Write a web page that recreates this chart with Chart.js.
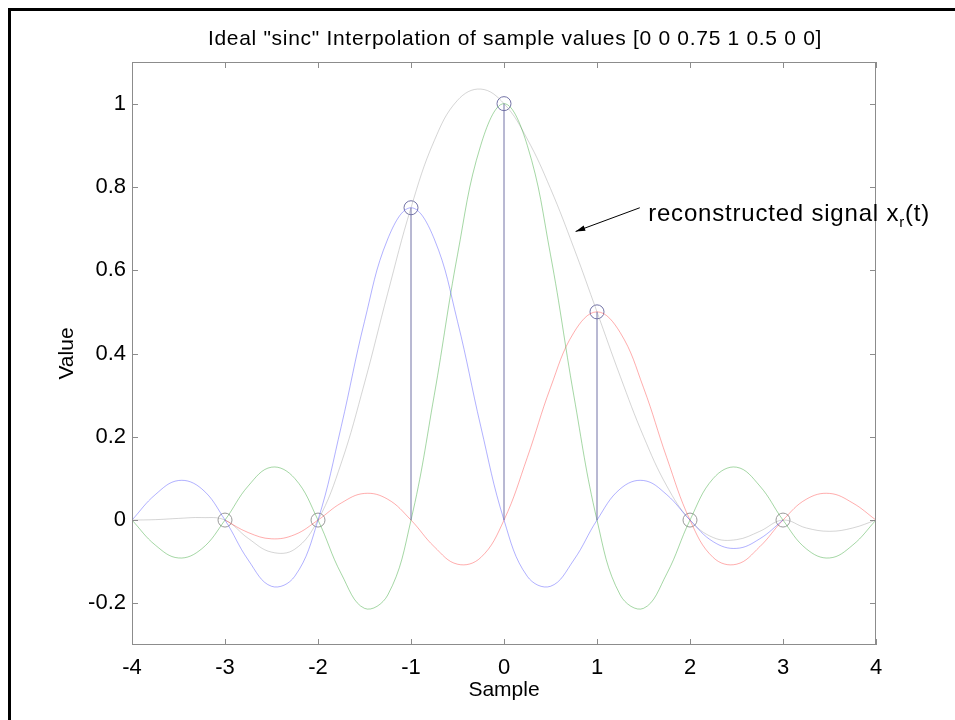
<!DOCTYPE html>
<html>
<head>
<meta charset="utf-8">
<script src="https://cdn.jsdelivr.net/npm/chart.js@4.4.1/dist/chart.umd.min.js"></script>
<style>
  html, body { margin: 0; padding: 0; background: #fff; }
  #wrap { width: 955px; height: 720px; }
</style>
</head>
<body>
<div id="wrap"><canvas id="sincChart" width="955" height="720"></canvas></div>
<script>
// time axis of the plotted curves
const tValues = [-4, -3.75, -3.5, -3.25, -3, -2.75, -2.5, -2.25, -2, -1.75, -1.5, -1.25, -1, -0.75, -0.5, -0.25,
  0, 0.25, 0.5, 0.75, 1, 1.25, 1.5, 1.75, 2, 2.25, 2.5, 2.75, 3, 3.25, 3.5, 3.75, 4];

// sinc pulse for sample at -1 (blue), ends at t = 3
const blueValues = [0, 0.061, 0.095, 0.075, 0, -0.096, -0.159, -0.135, 0, 0.225, 0.477, 0.675, 0.75, 0.675, 0.477, 0.225,
  0, -0.135, -0.159, -0.096, 0, 0.075, 0.095, 0.061, 0, -0.052, -0.068, -0.045, 0, null, null, null, null];
// sinc pulse for sample at 0 (green)
const greenValues = [0, -0.060, -0.091, -0.069, 0, 0.082, 0.127, 0.100, 0, -0.129, -0.212, -0.180, 0, 0.300, 0.637, 0.900,
  1, 0.900, 0.637, 0.300, 0, -0.180, -0.212, -0.129, 0, 0.100, 0.127, 0.082, 0, -0.069, -0.091, -0.060, 0];
// sinc pulse for sample at 1 (red), starts at t = -3
const redValues = [null, null, null, null, 0, -0.030, -0.045, -0.035, 0, 0.041, 0.064, 0.050, 0, -0.064, -0.106, -0.090,
  0, 0.150, 0.318, 0.450, 0.5, 0.450, 0.318, 0.150, 0, -0.090, -0.106, -0.064, 0, 0.050, 0.064, 0.041, 0];
// reconstructed signal (gray)
const sumValues = [0, 0.001, 0.004, 0.006, 0, -0.044, -0.077, -0.070, 0, 0.137, 0.329, 0.545, 0.75, 0.911, 1.008, 1.035,
  1, 0.915, 0.796, 0.654, 0.5, 0.345, 0.201, 0.082, 0, -0.042, -0.047, -0.027, 0, -0.019, -0.027, -0.019, 0];

// the samples
const sampleX = [-3, -2, -1, 0, 1, 2, 3];
const sampleY = [0, 0, 0.75, 1, 0.5, 0, 0];

// axis ticks
const xTicks = [-4, -3, -2, -1, 0, 1, 2, 3, 4];
const yTicks = [-0.2, 0, 0.2, 0.4, 0.6, 0.8, 1];

const titleText = 'Ideal "sinc" Interpolation of sample values [0 0 0.75 1 0.5 0 0]';

// annotation: arrow tail, arrow head, text anchor (data units)
const arrowFrom = [1.46, 0.75];
const arrowTo = [0.77, 0.693];
const labelAt = [1.55, 0.733];

const FONT = 'Liberation Sans, Arial, Helvetica, sans-serif';
const stemColor = '#7272a6';

const toPts = (vals) => tValues.map((t, i) => ({ x: t, y: vals[i] }));

const stemPts = [];
sampleX.forEach((x, i) => {
  if (sampleY[i] !== 0) {
    stemPts.push({ x: x, y: 0 }, { x: x, y: sampleY[i] }, { x: x, y: null });
  }
});

const curve = (label, vals, color) => ({
  label: label,
  data: toPts(vals),
  showLine: true,
  borderColor: color,
  borderWidth: 1,
  pointRadius: 0,
  tension: 0.4,
  spanGaps: false,
});

// MATLAB-like box with inward ticks, page frame, title and the arrow note
const matlabAxes = {
  id: 'matlabAxes',
  beforeDraw(chart) {
    const ctx = chart.ctx;
    ctx.save();
    ctx.fillStyle = '#000';
    ctx.fillRect(8, 8, 3, 712);
    ctx.fillRect(8, 8, 947, 3);
    // title, centred a bit right of the axes like the figure
    ctx.font = '21px ' + FONT;
    ctx.letterSpacing = '0.7px';
    ctx.textAlign = 'center';
    ctx.textBaseline = 'alphabetic';
    ctx.fillText(titleText, 515, 45);
    ctx.restore();
  },
  afterDatasetsDraw(chart) {
    const { ctx, chartArea: a, scales: { x, y } } = chart;
    ctx.save();
    ctx.strokeStyle = '#8c8c8c';
    ctx.lineWidth = 1;
    ctx.strokeRect(a.left + 0.5, a.top + 0.5, a.right - a.left - 1, a.bottom - a.top - 1);
    ctx.beginPath();
    xTicks.forEach(v => {
      const px = Math.round(x.getPixelForValue(v)) + 0.5;
      ctx.moveTo(px, a.bottom); ctx.lineTo(px, a.bottom - 6);
      ctx.moveTo(px, a.top); ctx.lineTo(px, a.top + 6);
    });
    yTicks.forEach(v => {
      const py = Math.round(y.getPixelForValue(v)) + 0.5;
      ctx.moveTo(a.left, py); ctx.lineTo(a.left + 6, py);
      ctx.moveTo(a.right, py); ctx.lineTo(a.right - 6, py);
    });
    ctx.stroke();

    // arrow
    const x0 = x.getPixelForValue(arrowFrom[0]), y0 = y.getPixelForValue(arrowFrom[1]);
    const x1 = x.getPixelForValue(arrowTo[0]), y1 = y.getPixelForValue(arrowTo[1]);
    ctx.strokeStyle = '#000';
    ctx.fillStyle = '#000';
    ctx.beginPath();
    ctx.moveTo(x0, y0); ctx.lineTo(x1, y1);
    ctx.stroke();
    const ang = Math.atan2(y1 - y0, x1 - x0);
    ctx.beginPath();
    ctx.moveTo(x1, y1);
    ctx.lineTo(x1 - 10 * Math.cos(ang - 0.28), y1 - 10 * Math.sin(ang - 0.28));
    ctx.lineTo(x1 - 10 * Math.cos(ang + 0.28), y1 - 10 * Math.sin(ang + 0.28));
    ctx.closePath();
    ctx.fill();

    // label with subscript
    let tx = x.getPixelForValue(labelAt[0]);
    const ty = y.getPixelForValue(labelAt[1]);
    ctx.textBaseline = 'middle';
    ctx.textAlign = 'left';
    ctx.letterSpacing = '0.8px';
    ctx.font = '24px ' + FONT;
    const main = 'reconstructed signal x';
    ctx.fillText(main, tx, ty);
    tx += ctx.measureText(main).width;
    ctx.font = '15px ' + FONT;
    ctx.fillText('r', tx, ty + 8);
    tx += ctx.measureText('r').width;
    ctx.font = '24px ' + FONT;
    ctx.fillText('(t)', tx, ty);
    ctx.restore();
  }
};

Chart.defaults.color = '#000';
Chart.defaults.font.family = FONT;

new Chart(document.getElementById('sincChart'), {
  type: 'scatter',
  data: {
    datasets: [
      {
        label: 'stems',
        data: stemPts,
        showLine: true,
        borderColor: stemColor,
        borderWidth: 1,
        pointRadius: 0,
        spanGaps: false,
      },
      curve('sample -1', blueValues, 'rgba(70, 70, 255, 0.42)'),
      curve('sample 0', greenValues, 'rgba(40, 160, 40, 0.42)'),
      curve('sample 1', redValues, 'rgba(255, 60, 60, 0.42)'),
      curve('reconstructed', sumValues, 'rgba(150, 150, 150, 0.4)'),
      {
        label: 'samples',
        data: sampleX.map((x, i) => ({ x: x, y: sampleY[i] })),
        pointStyle: 'circle',
        pointRadius: 7,
        pointBorderWidth: 1,
        backgroundColor: 'rgba(0,0,0,0)',
        pointBackgroundColor: 'rgba(0,0,0,0)',
        pointBorderColor: sampleY.map(v => v !== 0 ? stemColor : '#9a9a9a'),
        clip: false,
      },
    ],
  },
  options: {
    responsive: false,
    animation: false,
    layout: { padding: { left: 0, right: 79, top: 62, bottom: 0 } },
    plugins: {
      legend: { display: false },
      tooltip: { enabled: false },
      title: { display: false },
    },
    scales: {
      x: {
        type: 'linear',
        min: -4,
        max: 4,
        grid: { display: false, drawTicks: false },
        border: { display: false },
        afterBuildTicks: (s) => { s.ticks = xTicks.map(v => ({ value: v })); },
        afterFit: (s) => { s.height = 75; },
        ticks: { font: { size: 22 }, padding: 10, maxRotation: 0 },
        title: { display: true, text: 'Sample', font: { size: 21 }, padding: { top: 0, bottom: 17 } },
      },
      y: {
        type: 'linear',
        min: -0.3,
        max: 1.1,
        grid: { display: false, drawTicks: false },
        border: { display: false },
        afterBuildTicks: (s) => { s.ticks = yTicks.map(v => ({ value: v })); },
        afterFit: (s) => { s.width = 132; },
        ticks: {
          font: { size: 22 },
          padding: 6,
          callback: (v) => String(Math.round(v * 10) / 10),
        },
        title: { display: true, text: 'Value', font: { size: 21 }, padding: { top: 55, bottom: 0 } },
      },
    },
  },
  plugins: [matlabAxes],
});
</script>
</body>
</html>
